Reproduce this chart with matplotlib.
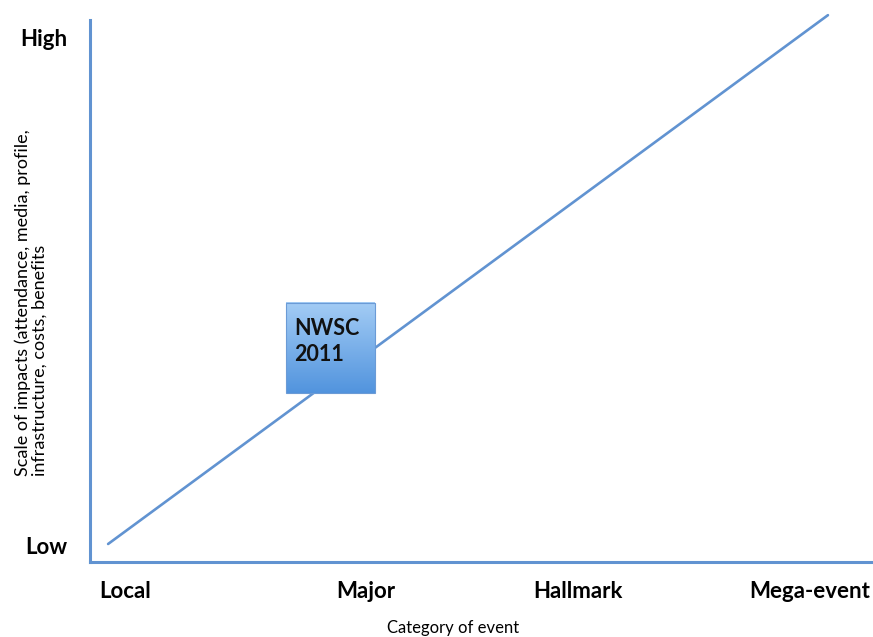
import matplotlib.pyplot as plt
import numpy as np

categories = ["Local", "Major", "Hallmark", "Mega-event"]
category_pos = [0, 1.056, 1.985, 3.0]
levels = ["Low", "High"]
level_pos = [0, 1]

# scale line: runs from just above "Low/Local" to past "High/Mega-event"
line_x = [-0.074, 3.079]
line_y = [0.002, 1.043]

# NWSC 2011 marker
event_label = "NWSC\n2011"
event_x = 0.898
event_y = 0.388

blue = "#6193d1"

plt.rcParams["font.family"] = ["Lato", "DejaVu Sans"]

fig = plt.figure(figsize=(8.73, 6.37), dpi=100)
ax = fig.add_axes([90 / 873, 1 - 562 / 637, 783 / 873, 542 / 637])

ax.plot(line_x, line_y, color=blue, lw=1.9, clip_on=False, solid_capstyle="round", zorder=2)

# gradient box
bw, bh = 89 / 228.3, 90 / 508
grad = np.linspace(0, 1, 100).reshape(-1, 1)
top = np.array([0.64, 0.80, 0.96])
bot = np.array([0.32, 0.58, 0.87])
img = top + (bot - top) * grad[..., None]
ax.imshow(img, extent=[event_x - bw / 2, event_x + bw / 2, event_y - bh / 2, event_y + bh / 2],
          aspect="auto", zorder=3, interpolation="bilinear")
ax.add_patch(plt.Rectangle((event_x - bw / 2, event_y - bh / 2), bw, bh, fill=False,
                           edgecolor="#6b9bd6", lw=0.8, zorder=4))
ax.text(event_x - bw / 2 + 9 / 228.3, event_y + bh / 2 - 15 / 508, event_label, ha="left", va="top",
        fontsize=15.5, fontweight="bold", color="#111111", linespacing=1.3, zorder=5)

ax.set_xlim(-35 / 228.3, (873 - 125) / 228.3)
ax.set_ylim(-17 / 508, 1 + 17 / 508)

for s in ["top", "right"]:
    ax.spines[s].set_visible(False)
for s in ["left", "bottom"]:
    ax.spines[s].set_color(blue)
    ax.spines[s].set_linewidth(2.2)

ax.set_xticks(category_pos)
ax.set_xticklabels(categories, fontsize=16, fontweight="bold")
ax.set_yticks(level_pos)
ax.set_yticklabels(levels, fontsize=16, fontweight="bold")
ax.tick_params(length=0, pad=14)
ax.tick_params(axis="y", pad=16)

ax.set_xlabel("Category of event", fontsize=12, labelpad=18)
ax.xaxis.set_label_coords((453 - 90) / 783, -58 / 542)
fig.text(31 / 873, 1 - 303 / 637,
         "Scale of impacts (attendance, media, profile,\ninfrastructure, costs, benefits",
         rotation=90, ha="center", va="center", multialignment="left", fontsize=13,
         linespacing=1.05)

fig.savefig("out.png", dpi=100)
